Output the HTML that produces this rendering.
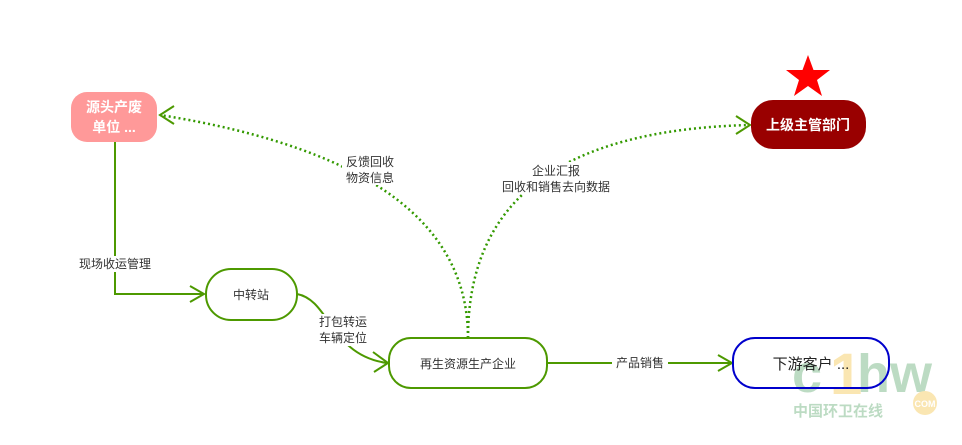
<!DOCTYPE html>
<html><head><meta charset="utf-8"><style>
html,body{margin:0;padding:0;background:#fff;}
body{width:962px;height:440px;overflow:hidden;font-family:"Liberation Sans","Noto Sans CJK SC",sans-serif;}
</style></head><body>
<svg width="962" height="440" viewBox="0 0 962 440" xmlns="http://www.w3.org/2000/svg" font-family="Liberation Sans, Noto Sans CJK SC, sans-serif">
<!-- watermark -->
<g opacity="0.4">
<text x="792" y="392" font-size="54" font-weight="bold" fill="#5aa86a" letter-spacing="-2">c</text>
<text x="830" y="394" font-size="58" font-weight="bold" fill="#f5c242">1</text>
<text x="857" y="392" font-size="54" font-weight="bold" fill="#5aa86a">hw</text>
<text x="793" y="416" font-size="15" font-weight="bold" fill="#5aa86a">中国环卫在线</text>
<circle cx="925" cy="403" r="12" fill="#f5c242"/>
<text x="925" y="407" font-size="9" font-weight="bold" fill="#fff" text-anchor="middle">COM</text>
</g>

<!-- connectors -->
<g fill="none" stroke="#4d9900" stroke-width="2">
<polyline points="115,142 115,294 203,294"/>
<polyline points="190,286 204,294 190,302"/>
<path d="M297,294 C330,300 330,355 387,363"/>
<polyline points="373,352 388,363 374,372"/>
<line x1="547" y1="363" x2="731" y2="363"/>
<polyline points="718,355 732,363 718,371"/>
</g>
<g fill="none" stroke="#339900" stroke-width="2.5" stroke-dasharray="2,3">
<path d="M468,338 C468,230 380,150 160,115"/>
<path d="M468,338 C468,200 560,130 749,125"/>
</g>
<g fill="none" stroke="#4d9900" stroke-width="2">
<polyline points="174,106 160,115 174,124"/>
<polyline points="736,116 750,125 736,134"/>
</g>

<!-- labels -->
<g font-size="12" fill="#333" text-anchor="middle">
<rect x="74" y="256" width="82" height="16" fill="#fff"/>
<text x="115" y="268">现场收运管理</text>
<rect x="316" y="314" width="54" height="32" fill="#fff"/>
<text x="343" y="326">打包转运</text>
<text x="343" y="342">车辆定位</text>
<rect x="342" y="153" width="56" height="32" fill="#fff"/>
<text x="370" y="166">反馈回收</text>
<text x="370" y="182">物资信息</text>
<rect x="496" y="162" width="120" height="32" fill="#fff"/>
<text x="556" y="175">企业汇报</text>
<text x="556" y="191">回收和销售去向数据</text>
<rect x="612" y="355" width="56" height="16" fill="#fff"/>
<text x="640" y="367">产品销售</text>
</g>

<!-- nodes -->
<rect x="71" y="92" width="86" height="50" rx="16" fill="#ff9999"/>
<text x="114" y="112" font-size="14" font-weight="bold" fill="#fff" text-anchor="middle">源头产废</text>
<text x="114" y="132" font-size="14" font-weight="bold" fill="#fff" text-anchor="middle">单位 ...</text>

<rect x="206" y="269" width="91" height="51" rx="25" fill="#fff" stroke="#4d9900" stroke-width="2"/>
<text x="251" y="299" font-size="12" fill="#333" text-anchor="middle">中转站</text>

<rect x="389" y="338" width="158" height="50" rx="22" fill="#fff" stroke="#4d9900" stroke-width="2"/>
<text x="468" y="368" font-size="12" fill="#333" text-anchor="middle">再生资源生产企业</text>

<rect x="733" y="338" width="156" height="50" rx="22" fill="none" stroke="#0000cc" stroke-width="2"/>
<text x="811" y="369" font-size="15" fill="#222" text-anchor="middle">下游客户 ...</text>

<rect x="751" y="100" width="115" height="49" rx="22" fill="#990000"/>
<text x="808" y="130" font-size="14" font-weight="bold" fill="#fff" text-anchor="middle">上级主管部门</text>

<polygon points="808,55 813.5,70 830,70 817,80 822,96 808,86 794,96 799,80 786,70 802.5,70" fill="#ff0000"/>
</svg>
</body></html>
